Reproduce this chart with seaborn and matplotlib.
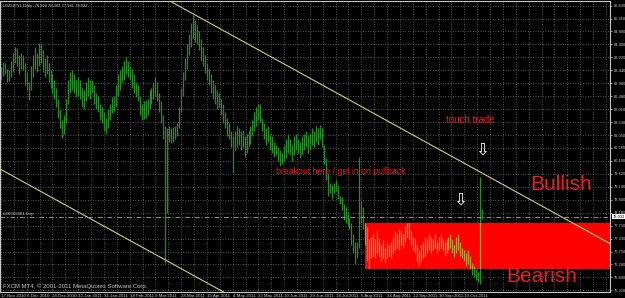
import matplotlib
matplotlib.use("Agg")
import matplotlib.pyplot as plt
from matplotlib.patches import Rectangle
import numpy as np
import pandas as pd
import seaborn as sns

W, H = 625, 298

# ---------------- data ----------------
bar_low = [
    83.10, 83.25, 83.30, 83.00, 83.05, 83.20, 83.40, 83.70, 83.60, 83.30,
    83.50, 83.45, 82.90, 82.70, 82.35, 82.70, 83.20, 83.50, 83.40, 83.60,
    83.70, 83.40, 83.20, 83.30, 83.00, 82.80, 82.60, 82.40, 82.10, 81.70,
    81.30, 80.94, 81.10, 81.50, 82.20, 82.60, 82.70, 82.60, 82.45, 82.50,
    82.40, 82.10, 82.00, 82.30, 82.50, 82.40, 82.60, 82.20, 82.00, 81.90,
    81.60, 81.50, 81.20, 81.10, 81.30, 81.60, 81.87, 81.90, 82.10, 82.50,
    82.70, 83.00, 83.10, 83.30, 83.20, 83.10, 82.80, 82.60, 82.45, 82.30,
    81.80, 81.60, 81.65, 81.70, 81.80, 82.00, 82.20, 82.40, 82.50, 82.30,
    81.90, 81.50, 80.90, 76.33, 78.17, 80.80, 80.75, 80.80, 80.90, 81.00,
    81.30, 81.90, 82.50, 83.10, 83.50, 84.00, 84.30, 84.60, 84.50, 84.40,
    84.20, 83.80, 83.60, 83.33, 83.10, 82.90, 82.60, 82.40, 82.20, 82.00,
    82.10, 81.80, 81.50, 81.30, 81.00, 80.90, 80.60, 79.65, 80.50, 80.60,
    80.70, 80.50, 80.60, 80.24, 80.40, 80.60, 80.74, 81.00, 81.20, 81.40,
    81.60, 81.50, 81.20, 80.90, 80.70, 80.80, 80.50, 80.40, 80.24, 80.30,
    80.10, 79.90, 80.00, 80.10, 80.20, 80.40, 80.30, 80.10, 80.30, 80.50,
    80.40, 80.20, 80.30, 80.50, 80.60, 80.40, 80.50, 80.70, 80.60, 80.80,
    80.70, 80.90, 80.60, 80.00, 79.40, 78.80, 78.90, 78.70, 78.90, 79.00,
    78.70, 78.50, 78.30, 77.90, 77.80, 77.70, 77.60, 77.00, 76.70, 76.30,
    76.50, 76.90, 77.80, 77.60, 77.00, 76.40, 76.10, 76.50, 76.60, 76.50,
    76.70, 76.60, 76.40, 76.50, 76.33, 76.50, 76.60, 76.50, 76.70, 76.80,
    76.90, 76.80, 77.00, 76.90, 77.10, 77.30, 77.20, 77.00, 76.80, 76.70,
    76.40, 76.20, 76.40, 76.50, 76.60, 76.70, 76.80, 76.70, 76.80, 76.90,
    76.70, 76.80, 76.90, 76.80, 76.60, 76.70, 76.80, 76.90, 76.70, 76.55,
    76.70, 76.80, 76.60, 76.50, 76.40, 76.20, 76.30, 76.10, 75.90, 75.80,
    75.70, 75.63, 75.56, 77.94,
]
bar_high = [
    83.55, 83.75, 83.70, 83.50, 83.45, 83.80, 84.10, 84.30, 84.25, 84.00,
    84.10, 84.00, 83.70, 83.40, 83.00, 83.60, 84.00, 84.30, 84.10, 84.46,
    84.40, 84.20, 83.90, 84.00, 83.70, 83.45, 83.30, 83.10, 82.80, 82.40,
    82.00, 81.60, 81.80, 82.40, 83.10, 83.40, 83.45, 83.30, 83.10, 83.20,
    83.10, 82.80, 82.70, 83.00, 83.20, 83.10, 83.10, 82.90, 82.60, 82.50,
    82.20, 82.10, 81.90, 81.70, 82.00, 82.20, 82.45, 82.50, 82.90, 83.30,
    83.45, 83.60, 83.80, 83.93, 83.80, 83.60, 83.50, 83.30, 83.00, 82.90,
    82.50, 82.20, 82.30, 82.35, 82.40, 82.70, 82.80, 83.00, 83.20, 83.00,
    82.60, 82.30, 81.80, 81.40, 81.30, 81.40, 81.30, 81.35, 81.40, 81.50,
    82.10, 82.80, 83.40, 83.90, 84.40, 84.80, 85.20, 85.50, 85.30, 85.10,
    84.90, 84.60, 84.30, 84.00, 83.70, 83.50, 83.30, 83.10, 82.90, 82.70,
    82.60, 82.40, 82.20, 81.90, 81.70, 81.50, 81.20, 81.00, 81.20, 81.40,
    81.30, 81.20, 81.24, 81.00, 81.10, 81.20, 81.40, 81.60, 81.90, 82.10,
    82.20, 82.20, 81.70, 81.50, 81.30, 81.40, 81.10, 81.00, 80.80, 80.70,
    80.60, 80.50, 80.40, 80.70, 80.90, 81.10, 80.90, 80.70, 81.00, 81.10,
    80.90, 80.80, 81.00, 81.10, 81.20, 81.00, 81.10, 81.30, 81.20, 81.40,
    81.30, 81.42, 81.30, 80.70, 80.20, 79.60, 79.30, 79.20, 79.30, 79.40,
    79.20, 78.80, 78.77, 78.50, 78.40, 78.20, 78.00, 77.80, 77.40, 77.10,
    77.10, 80.25, 78.60, 78.40, 77.80, 77.66, 77.20, 77.30, 77.40, 77.20,
    77.50, 77.20, 77.00, 77.18, 76.90, 77.10, 77.00, 77.10, 77.30, 77.50,
    77.40, 77.60, 77.50, 77.40, 77.70, 77.80, 77.86, 77.50, 77.30, 77.20,
    77.00, 76.80, 77.00, 77.10, 77.30, 77.20, 77.40, 77.30, 77.20, 77.40,
    77.10, 77.30, 77.40, 77.20, 77.10, 77.20, 77.30, 77.40, 77.20, 77.00,
    77.30, 77.40, 77.10, 76.90, 76.80, 76.70, 76.80, 76.60, 76.33, 76.20,
    76.10, 76.00, 79.50, 78.31,
]
price_ticks = [75.320, 75.800, 76.280, 76.750, 77.230, 77.710, 78.180,
               78.660, 79.140, 79.620, 80.100, 80.580, 81.050, 81.530,
               82.010, 82.480, 82.960, 83.440, 83.920, 84.400, 84.880,
               85.350, 85.830]
date_labels = ["17 Nov 2010", "6 Dec 2010", "24 Dec 2010", "12 Jan 2011",
               "31 Jan 2011", "18 Feb 2011", "9 Mar 2011", "28 Mar 2011",
               "15 Apr 2011", "4 May 2011", "23 May 2011", "10 Jun 2011",
               "29 Jun 2011", "18 Jul 2011", "5 Aug 2011", "24 Aug 2011",
               "12 Sep 2011", "30 Sep 2011", "19 Oct 2011"]
bars_per_label = 13
current_price = 78.032
header_values = ["78.308", "78.307", "77.941", "78.032"]

# drawn objects (bar index, price)
zone_start_bar = 183.7
zone_low, zone_high = 76.12, 77.82
upper_channel = [(97, 85.53), (307, 77.07)]
lower_channel = [(0, 79.78), (83, 76.44)]

# ---------------- styling ----------------
sns.set_theme(style="dark", rc={
    "figure.facecolor": "black",
    "axes.facecolor": "black",
    "savefig.facecolor": "black",
})
plt.rcParams["font.family"] = ["Liberation Sans", "DejaVu Sans"]

GREEN = "#239023"
ORANGE = "#c9963a"
RED = "#ff0000"
TXT_RED = "#e8221e"
AXCOL = "#c8c8c8"
GRID = "#6e6e6e"

fig = plt.figure(figsize=(W / 100, H / 100), dpi=100)
ax = fig.add_axes([0, 6 / H, 610 / W, 291 / H])

px_per_bar = 1.98
ax.set_xlim(-1 / px_per_bar, 609 / px_per_bar)
ax.set_ylim(75.257, 86.004)

df = pd.DataFrame({"bar": np.arange(len(bar_low)), "low": bar_low, "high": bar_high})

# grid
grid_x = np.arange(0, 310, bars_per_label / 2)
for gx in grid_x:
    ax.axvline(gx, color=GRID, lw=0.6, ls=(0, (1, 2)), zorder=0)
for gy in price_ticks:
    ax.axhline(gy, color=GRID, lw=0.6, ls=(0, (1, 2)), zorder=0)

# zone
rect = Rectangle((zone_start_bar, zone_low), 400, zone_high - zone_low,
                 facecolor=RED, edgecolor="none", zorder=2)
ax.add_patch(rect)

# bars
ax.vlines(df["bar"], df["low"], df["high"], colors=GREEN, lw=0.9, zorder=1)
inner = ax.vlines(df["bar"], df["low"], df["high"], colors=ORANGE, lw=0.9, zorder=3)
inner.set_clip_path(rect)

# channel lines
ax.axline(upper_channel[0], upper_channel[1], color="#cfcf7a", lw=0.8, zorder=4)
ax.axline(lower_channel[0], lower_channel[1], color="#cfcf7a", lw=0.8, zorder=4)

# current price / order line
ax.axhline(current_price, color="#7f9f85", lw=0.7, ls=(0, (5, 2, 1, 2)), zorder=4)

# axes
ax.yaxis.tick_right()
ax.set_yticks(price_ticks, [f"{v:.3f}" for v in price_ticks])
ax.tick_params(axis="y", labelsize=2.9, colors=AXCOL, length=1.5, width=0.5, pad=1.0,
               direction="out")
ax.set_xticks([i * bars_per_label for i in range(len(date_labels))], date_labels)
ax.tick_params(axis="x", labelsize=3.2, colors=AXCOL, length=1.2, width=0.5, pad=0.3,
               direction="out")
for lab in ax.get_xticklabels():
    lab.set_ha("left")
ax.grid(False)
for s in ax.spines.values():
    s.set_color(AXCOL)
    s.set_linewidth(0.8)
    s.set_visible(True)

ax.text(1.004, current_price, f"{current_price:.3f}", transform=ax.get_yaxis_transform(),
        fontsize=2.9, color="black", va="center", ha="left",
        bbox=dict(boxstyle="square,pad=0.15", fc="white", ec="none"), zorder=6, clip_on=False)


def fx(x, y):
    return x / W, 1 - y / H


fig.text(*fx(3, 6), "USDJPY1,Daily  " + " ".join(header_values), fontsize=3.0,
         color=AXCOL, va="center", ha="left")
fig.text(*fx(3, 214), "#46603381 buy", fontsize=3.2, color=AXCOL, va="center", ha="left")
fig.text(*fx(3, 286), "FXCM MT4, \u00a9 2001-2011 MetaQuotes Software Corp.", fontsize=4.3,
         color=AXCOL, va="center", ha="left")

fig.text(*fx(470, 120), "touch trade", fontsize=7.0, color=TXT_RED, va="center",
         ha="center")
fig.text(*fx(341, 172), "breakout here / get in on pullback", fontsize=6.3, color=TXT_RED,
         va="center", ha="center")
fig.text(*fx(561, 184), "Bullish", fontsize=15, color=TXT_RED, va="center",
         ha="center")
fig.text(*fx(542, 277), "Bearish", fontsize=15, color=TXT_RED, va="center",
         ha="center")
fig.text(*fx(482, 150), "\u21e9", fontsize=12, color="white", va="center", ha="center",
         family="DejaVu Sans")
fig.text(*fx(460, 200), "\u21e9", fontsize=12, color="white", va="center", ha="center",
         family="DejaVu Sans")

fig.savefig("out.png", dpi=100, facecolor="black")
